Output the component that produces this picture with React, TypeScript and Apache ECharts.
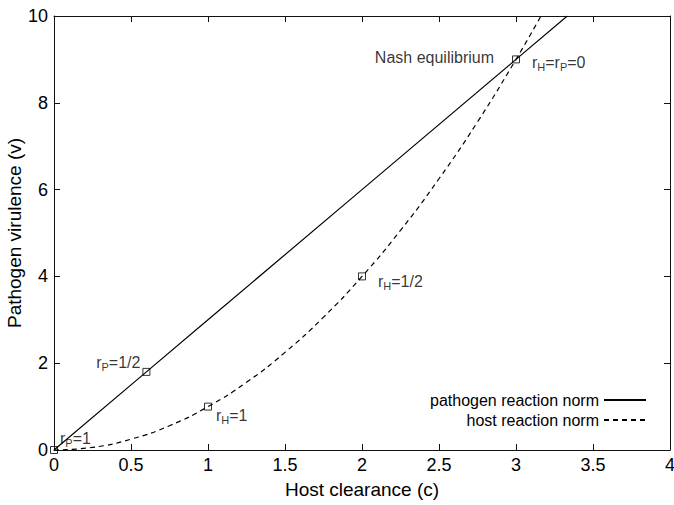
import React, { useEffect, useRef } from "react";
import * as echarts from "echarts";

// Pathogen reaction norm (solid line)
const pathogenC = [0, 0.6, 1, 2, 3, 3.333];
const pathogenV = [0, 1.8, 3, 6, 9, 10];

// Host reaction norm (dashed curve)
const hostC = [0, 0.25, 0.5, 0.75, 1, 1.25, 1.5, 1.75, 2, 2.25, 2.5, 2.75, 3, 3.162];
const hostV = [0, 0.06, 0.25, 0.56, 1, 1.56, 2.25, 3.06, 4, 5.06, 6.25, 7.56, 9, 10];

// Square markers and their annotations
const markerC = [0, 0.6, 1, 2, 3];
const markerV = [0, 1.8, 1, 4, 9];
const markerLabels = ["r{s|P}=1", "r{s|P}=1/2", "r{s|H}=1", "r{s|H}=1/2", "r{s|H}=r{s|P}=0"];

const nashText = "Nash equilibrium";
const xTicks = ["0", "0.5", "1", "1.5", "2", "2.5", "3", "3.5", "4"];

const seriesNames = ["pathogen reaction norm", "host reaction norm"];

const FONT = "'Liberation Sans', Arial, Helvetica, sans-serif";

// label placement (style) per marker
const labelPlacement = [
  { position: "right", distance: 2, offset: [0, -12] },
  { position: "left", distance: 2, offset: [0, -9] },
  { position: "right", distance: 4, offset: [0, 9] },
  { position: "right", distance: 12, offset: [0, 5] },
  { position: "right", distance: 12, offset: [0, 3] },
];

const mkLine = () => ({ show: true, onZero: false, lineStyle: { color: "#111", width: 1 } });
const mkTick = () => ({ show: true, inside: true, length: 6, lineStyle: { color: "#111", width: 1 } });

export default function App() {
  const ref = useRef<HTMLDivElement>(null);
  useEffect(() => {
    if (!ref.current) return;
    const chart = echarts.init(ref.current, null, { renderer: "svg" });
    const richLabel = {
      fontSize: 16,
      lineHeight: 20,
      color: "#000",
      fontFamily: FONT,
      rich: {
        s: { fontSize: 11, lineHeight: 11, verticalAlign: "bottom", color: "#000", fontFamily: FONT },
      },
    };
    chart.setOption({
      animation: false,
      backgroundColor: "#fff",
      textStyle: { fontFamily: FONT },
      grid: { left: 54, right: 4, top: 16, bottom: 55, containLabel: false, outerBoundsMode: "none" },
      legend: {
        data: seriesNames,
        orient: "vertical",
        align: "right",
        right: 27,
        top: 392,
        padding: 0,
        itemWidth: 42,
        itemHeight: 14,
        itemGap: 4,
        itemStyle: { opacity: 0 },
        textStyle: { fontSize: 16, color: "#000", fontFamily: FONT },
      },
      xAxis: [
        {
          type: "value",
          position: "bottom",
          min: 0,
          max: 4,
          interval: 0.5,
          name: "Host clearance (c)",
          nameLocation: "middle",
          nameGap: 30,
          nameMoveOverlap: false,
          nameTextStyle: { fontSize: 19, color: "#000", fontFamily: FONT },
          axisLine: mkLine(),
          axisTick: mkTick(),
          axisLabel: {
            fontSize: 18,
            color: "#000",
            margin: 6,
            fontFamily: FONT,
            formatter: (v: number) => {
              const i = Math.round(v / 0.5);
              return xTicks[i] ?? String(v);
            },
          },
          splitLine: { show: false },
        },
        {
          type: "value",
          position: "top",
          min: 0,
          max: 4,
          interval: 0.5,
          axisLine: mkLine(),
          axisTick: mkTick(),
          axisLabel: { show: false },
          splitLine: { show: false },
        },
      ],
      yAxis: [
        {
          type: "value",
          position: "left",
          min: 0,
          max: 10,
          interval: 2,
          name: "Pathogen virulence (v)",
          nameLocation: "middle",
          nameGap: 30,
          nameMoveOverlap: false,
          nameTextStyle: { fontSize: 19, color: "#000", fontFamily: FONT },
          axisLine: mkLine(),
          axisTick: mkTick(),
          axisLabel: { fontSize: 18, color: "#000", margin: 6, fontFamily: FONT },
          splitLine: { show: false },
        },
        {
          type: "value",
          position: "right",
          min: 0,
          max: 10,
          interval: 2,
          axisLine: mkLine(),
          axisTick: mkTick(),
          axisLabel: { show: false },
          splitLine: { show: false },
        },
      ],
      series: [
        {
          name: seriesNames[0],
          type: "line",
          data: pathogenC.map((c, i) => [c, pathogenV[i]]),
          symbol: "none",
          lineStyle: { color: "#000", width: 1.2, type: "solid" },
          itemStyle: { color: "#000" },
          z: 2,
        },
        {
          name: seriesNames[1],
          type: "line",
          data: hostC.map((c, i) => [c, hostV[i]]),
          symbol: "none",
          smooth: true,
          lineStyle: { color: "#000", width: 1.2, type: [5, 4] },
          itemStyle: { color: "#000" },
          z: 2,
        },
        {
          name: "markers",
          type: "scatter",
          symbol: "rect",
          symbolSize: 7,
          itemStyle: { color: "rgba(0,0,0,0)", borderColor: "#000", borderWidth: 1 },
          data: markerC.map((c, i) => ({
            value: [c, markerV[i]],
            label: { show: true, formatter: markerLabels[i], ...richLabel, ...labelPlacement[i] },
          })),
          z: 3,
        },
        {
          name: "nash",
          type: "scatter",
          symbol: "rect",
          symbolSize: 7,
          itemStyle: { color: "rgba(0,0,0,0)", borderColor: "rgba(0,0,0,0)" },
          data: [[markerC[4], markerV[4]]],
          label: {
            show: true,
            formatter: nashText,
            position: "left",
            distance: 18,
            offset: [0, -2],
            fontSize: 16,
            color: "#000",
            fontFamily: FONT,
          },
          z: 3,
        },
      ],
    });
    return () => chart.dispose();
  }, []);
  return <div ref={ref} style={{ width: 674, height: 505, position: "absolute", left: 0, top: 0 }} />;
}
